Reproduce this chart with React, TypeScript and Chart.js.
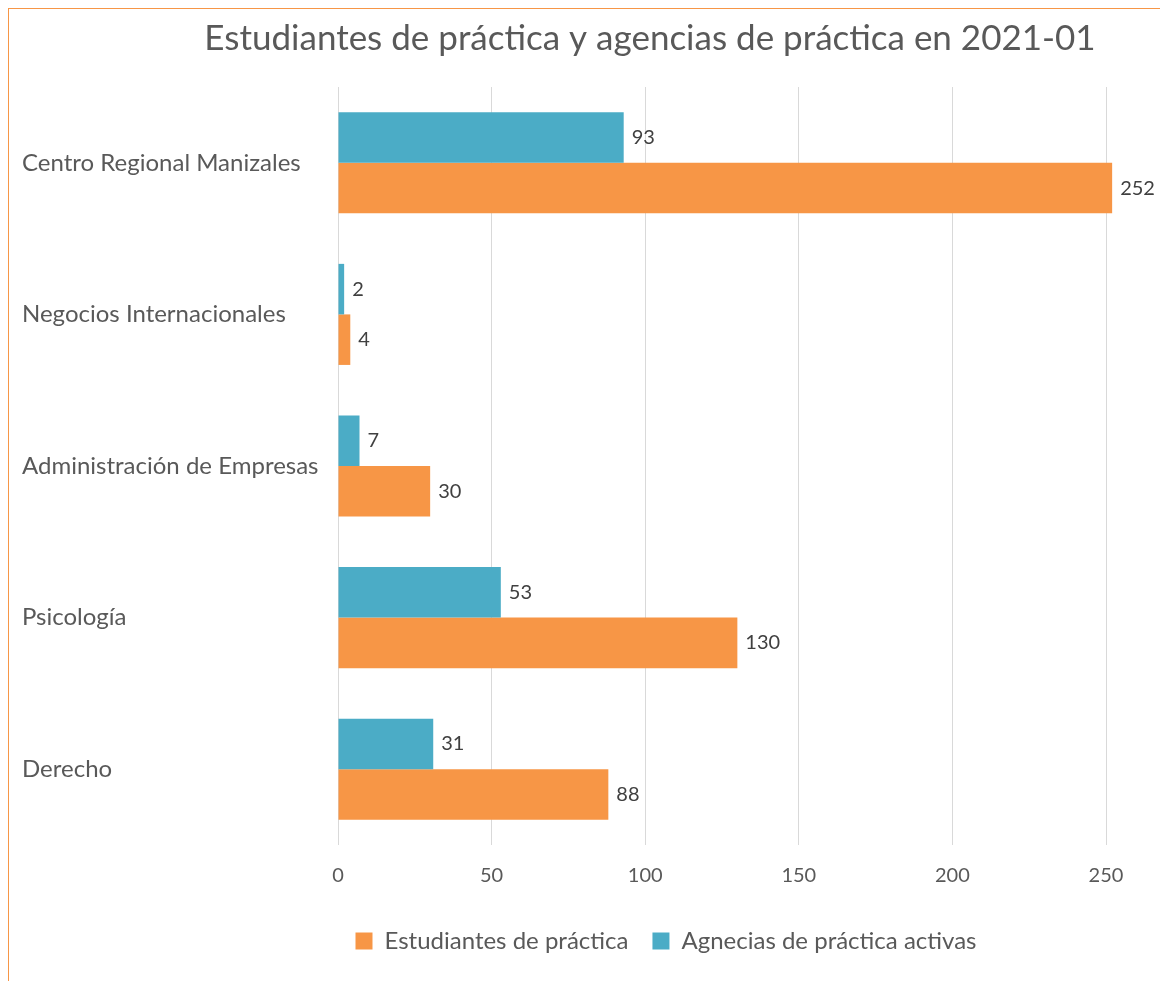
import React, { useEffect, useRef } from "react";
import { Chart, registerables } from "chart.js";

Chart.register(...registerables);

const categories = [
  "Centro Regional Manizales",
  "Negocios Internacionales",
  "Administración de Empresas",
  "Psicología",
  "Derecho",
];
const estudiantes = [252, 4, 30, 130, 88];
const agencias = [93, 2, 7, 53, 31];
const tickValues = [0, 50, 100, 150, 200, 250];
const titleText = "Estudiantes de práctica y agencias de práctica en 2021-01";

const FONT = "Lato";
const ORANGE = "#F79646";
const TEAL = "#4BACC6";

const valueLabels = {
  id: "valueLabels",
  afterDatasetsDraw(chart: any) {
    const ctx = chart.ctx;
    ctx.save();
    ctx.font = `20px ${FONT}`;
    ctx.fillStyle = "#404040";
    ctx.textAlign = "left";
    ctx.textBaseline = "middle";
    chart.data.datasets.forEach((ds: any, i: number) => {
      const meta = chart.getDatasetMeta(i);
      meta.data.forEach((el: any, j: number) => {
        ctx.fillText(String(ds.data[j]), el.x + 8, el.y);
      });
    });
    ctx.restore();
  },
};

const titleDraw = {
  id: "titleDraw",
  afterDraw(chart: any) {
    const ctx = chart.ctx;
    ctx.save();
    ctx.font = `35px ${FONT}`;
    ctx.fillStyle = "#595959";
    ctx.textAlign = "center";
    ctx.textBaseline = "middle";
    ctx.fillText(titleText, 641, 30);
    ctx.restore();
  },
};

export default function App() {
  const ref = useRef<HTMLCanvasElement | null>(null);
  useEffect(() => {
    if (!ref.current) return;
    const chart = new Chart(ref.current, {
      type: "bar",
      data: {
        labels: categories,
        datasets: [
          {
            label: "Agnecias de práctica activas",
            data: agencias,
            backgroundColor: TEAL,
            categoryPercentage: 2 / 3,
            barPercentage: 1,
          },
          {
            label: "Estudiantes de práctica",
            data: estudiantes,
            backgroundColor: ORANGE,
            categoryPercentage: 2 / 3,
            barPercentage: 1,
          },
        ],
      },
      plugins: [valueLabels, titleDraw],
      options: {
        indexAxis: "y",
        animation: false,
        responsive: true,
        maintainAspectRatio: false,
        layout: { padding: { left: 13, right: 0, top: 78, bottom: 18 } },
        plugins: {
          tooltip: { enabled: false },
          title: { display: false },
          legend: {
            position: "bottom",
            reverse: true,
            labels: {
              boxWidth: 17,
              boxHeight: 17,
              padding: 24,
              color: "#595959",
              font: { family: FONT, size: 24 },
            },
          },
        },
        scales: {
          x: {
            min: 0,
            max: (1301 - 329) / 3.072,
            afterBuildTicks(scale: any) {
              scale.ticks = tickValues.map((v) => ({ value: v }));
            },
            afterFit(scale: any) {
              scale.height = 60;
            },
            grid: { color: "#D9D9D9", drawTicks: false },
            border: { display: false },
            ticks: {
              padding: 19,
              color: "#595959",
              font: { family: FONT, size: 20 },
            },
          },
          y: {
            afterFit(scale: any) {
              scale.width = 316;
            },
            grid: { display: false },
            border: { display: false },
            ticks: {
              crossAlign: "far",
              color: "#595959",
              font: { family: FONT, size: 24 },
            },
          },
        },
      },
    });
    return () => chart.destroy();
  }, []);
  return (
    <div
      style={{
        width: 1159,
        height: 972,
        borderTop: `1px solid ${ORANGE}`,
        borderLeft: `1px solid ${ORANGE}`,
        overflow: "hidden",
        background: "#fff",
      }}
    >
      <div style={{ position: "relative", width: 1301, height: 972 }}>
        <canvas ref={ref} />
      </div>
    </div>
  );
}
